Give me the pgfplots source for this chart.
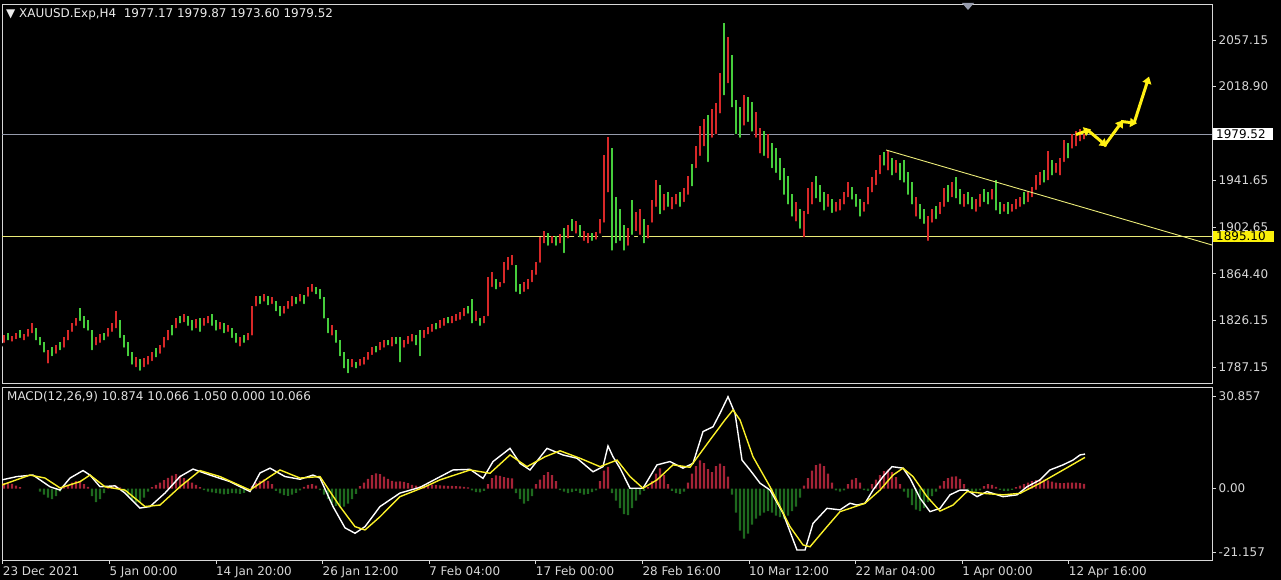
\documentclass[border=0pt]{standalone}
\usepackage{fontspec}
\setmainfont{DejaVu Sans}
\usepackage{pgfplots}
\usepackage{pgfplotstable}
\pgfplotsset{compat=1.18}
\usetikzlibrary{arrows.meta}
\definecolor{upred}{RGB}{215,40,40}
\definecolor{dngreen}{RGB}{70,205,60}
\definecolor{hred}{RGB}{165,35,55}
\definecolor{hgreen}{RGB}{30,105,30}
\definecolor{axgray}{RGB}{215,215,215}
\definecolor{lvgray}{RGB}{150,155,172}
\definecolor{lvyel}{RGB}{235,235,120}
\definecolor{arryel}{RGB}{255,240,20}
\definecolor{sigyel}{RGB}{250,240,40}
\definecolor{boxyel}{RGB}{250,240,10}

\pgfplotstableread{
x l h
4 1806 1814
12 1807 1813
16 1809 1816
24 1808 1815
28 1811 1819
32 1814 1824
48 1789 1802
56 1797 1806
64 1802 1812
68 1808 1818
72 1815 1824
76 1820 1828
96 1804 1812
100 1806 1815
108 1811 1820
112 1815 1824
116 1818 1834
136 1786 1796
144 1786 1795
148 1788 1797
152 1791 1800
160 1797 1806
164 1802 1812
168 1808 1818
176 1818 1828
184 1823 1831
196 1818 1827
204 1820 1828
208 1822 1830
220 1817 1825
228 1815 1822
240 1803 1812
248 1808 1816
252 1812 1838
256 1836 1846
264 1840 1848
272 1838 1845
284 1830 1838
288 1834 1842
292 1836 1846
300 1840 1848
308 1844 1854
312 1848 1856
332 1812 1822
352 1786 1794
360 1787 1794
364 1788 1796
368 1792 1800
372 1796 1804
380 1800 1808
384 1802 1810
392 1803 1812
404 1802 1810
408 1805 1813
412 1807 1815
424 1810 1818
428 1813 1821
432 1815 1823
440 1818 1826
444 1820 1828
452 1822 1830
456 1824 1831
460 1825 1833
464 1828 1836
476 1824 1834
484 1822 1830
488 1828 1862
492 1852 1866
500 1852 1858
504 1855 1874
508 1866 1878
512 1870 1880
524 1848 1858
528 1850 1860
532 1856 1868
536 1862 1874
540 1872 1895
544 1888 1900
552 1888 1896
560 1888 1897
568 1892 1905
576 1896 1908
584 1890 1900
588 1888 1898
596 1891 1899
600 1896 1910
604 1905 1962
608 1930 1977
628 1886 1902
636 1898 1915
640 1895 1918
648 1892 1905
652 1905 1925
656 1918 1942
664 1915 1930
672 1916 1928
676 1920 1930
684 1922 1935
688 1928 1945
696 1950 1970
700 1960 1986
704 1968 1992
712 1975 2000
716 1978 2005
720 1995 2030
728 2020 2060
744 1985 2012
756 1975 1998
760 1962 1985
768 1958 1980
796 1906 1924
804 1893 1916
808 1912 1935
812 1920 1940
828 1918 1930
836 1914 1924
840 1915 1926
844 1920 1932
848 1926 1940
864 1914 1924
868 1920 1936
872 1930 1944
876 1936 1950
880 1945 1962
888 1948 1966
896 1946 1958
916 1910 1928
928 1890 1912
932 1905 1918
940 1912 1924
944 1918 1935
952 1926 1940
964 1918 1930
976 1914 1926
980 1918 1930
992 1924 1934
1004 1914 1922
1012 1914 1922
1016 1916 1926
1020 1918 1928
1028 1922 1932
1032 1926 1936
1036 1932 1946
1040 1936 1948
1048 1940 1966
1056 1946 1956
1060 1944 1960
1064 1955 1975
1072 1966 1980
1076 1968 1982
1080 1972 1984
1084 1973.6 1979.87
}\upbars

\pgfplotstableread{
x l h
8 1808 1816
20 1810 1818
36 1808 1820
40 1804 1812
44 1798 1808
52 1795 1804
60 1800 1808
80 1824 1836
84 1818 1830
88 1816 1826
92 1800 1818
104 1808 1816
120 1810 1826
124 1802 1814
128 1795 1808
132 1788 1800
140 1783 1794
156 1794 1803
172 1812 1822
180 1822 1830
188 1820 1830
192 1816 1826
200 1815 1828
212 1820 1831
216 1816 1826
224 1814 1824
232 1810 1820
236 1806 1816
244 1806 1814
260 1838 1846
268 1837 1846
276 1832 1842
280 1828 1838
296 1838 1845
304 1838 1847
316 1846 1854
320 1842 1852
324 1826 1845
328 1814 1828
336 1806 1818
340 1795 1810
344 1785 1800
348 1781 1794
356 1785 1792
376 1798 1805
388 1804 1810
396 1805 1812
400 1790 1812
416 1804 1814
420 1795 1818
436 1817 1824
448 1822 1829
468 1830 1838
472 1822 1844
480 1820 1828
496 1850 1860
516 1848 1872
520 1846 1856
548 1886 1898
556 1886 1896
564 1880 1902
572 1898 1910
580 1893 1905
592 1890 1898
612 1882 1968
616 1888 1928
620 1890 1918
624 1882 1905
632 1895 1925
644 1888 1910
660 1912 1938
668 1918 1932
680 1918 1932
692 1935 1955
708 1955 1995
724 2010 2071
732 2000 2045
736 1978 2008
740 1975 2002
748 1988 2010
752 1980 2006
764 1960 1982
772 1950 1972
776 1946 1968
780 1940 1960
784 1928 1952
788 1920 1945
792 1910 1930
800 1900 1918
816 1925 1945
820 1922 1938
824 1915 1932
832 1913 1926
852 1924 1936
856 1918 1930
860 1910 1926
884 1952 1965
892 1944 1960
900 1940 1956
904 1938 1958
908 1928 1948
912 1920 1940
920 1908 1922
924 1904 1918
936 1908 1920
948 1922 1938
956 1925 1944
960 1920 1934
968 1920 1932
972 1916 1928
984 1922 1934
988 1920 1932
996 1915 1942
1000 1912 1924
1008 1912 1924
1024 1920 1932
1044 1938 1950
1052 1944 1958
1068 1958 1972
}\dnbars

\begin{document}
\begin{tikzpicture}[x=1bp,y=1bp]
\path[use as bounding box, fill=black] (0bp,0bp) rectangle (1281bp,580bp);

% ---------- price panel ----------
\begin{axis}[
  at={(2bp,197bp)}, anchor=south west,
  width=1210bp, height=379bp, scale only axis,
  xmin=2, xmax=1212, ymin=1774.5, ymax=2086.8,
  clip mode=individual,
  axis line style={draw=axgray, line width=0.8bp},
  xtick=\empty,
  ytick={1787.15,1826.15,1864.40,1902.65,1941.65,2018.90,2057.15},
  yticklabels={1787.15,1826.15,1864.40,1902.65,1941.65,2018.90,2057.15},
  ytick pos=right, yticklabel pos=right,
  tick align=outside, major tick length=4bp,
  tick style={draw=axgray, line width=0.8bp},
  yticklabel style={font=\fontsize{12}{14}\selectfont, text=axgray, inner sep=2.5bp},
]
\addplot[lvgray, line width=0.8bp] coordinates {(2,1979.52) (1212,1979.52)};
\addplot[lvyel, line width=0.8bp] coordinates {(2,1895.10) (1212,1895.10)};

\addplot[only marks, mark=none, error bars/.cd, y dir=plus, y explicit, error mark=none,
  error bar style={draw=upred, line width=2bp}]
  table[x=x, y=l, y error plus expr=\thisrow{h}-\thisrow{l}] {\upbars};
\addplot[only marks, mark=none, error bars/.cd, y dir=plus, y explicit, error mark=none,
  error bar style={draw=dngreen, line width=2bp}]
  table[x=x, y=l, y error plus expr=\thisrow{h}-\thisrow{l}] {\dnbars};

\addplot[lvyel, line width=0.9bp] coordinates {(886,1966.5) (1212,1888.2)};

\addplot[arryel, line width=3bp, -{Triangle[length=7bp,width=9bp]}] coordinates {(1076,1979.2) (1091,1983.5)};
\addplot[arryel, line width=3bp, -{Triangle[length=7bp,width=9bp]}] coordinates {(1089,1982) (1107,1969.5)};
\addplot[arryel, line width=3bp, -{Triangle[length=7bp,width=9bp]}] coordinates {(1104,1969.5) (1123,1991)};
\addplot[arryel, line width=3bp, -{Triangle[length=7bp,width=9bp]}] coordinates {(1121,1990) (1137,1988.5)};
\addplot[arryel, line width=3bp, -{Triangle[length=7bp,width=9bp]}] coordinates {(1134,1988.5) (1149,2027)};

\node[fill=white, text=black, anchor=west, inner xsep=3bp, inner ysep=1bp, text width=54bp,
  text height=8.8bp, text depth=0.6bp, font=\fontsize{12}{14}\selectfont]
  at (axis cs:1213,1979.52) {1979.52};
\node[fill=boxyel, text=black, anchor=west, inner xsep=3bp, inner ysep=1bp, text width=55bp,
  text height=8.8bp, text depth=0.6bp, font=\fontsize{12}{14}\selectfont]
  at (axis cs:1213,1895.10) {1895.10};
\end{axis}

% ---------- MACD panel ----------
\begin{axis}[
  at={(2bp,20bp)}, anchor=south west,
  width=1210bp, height=173bp, scale only axis,
  xmin=2, xmax=1212, ymin=-23.82, ymax=33.86,
  clip mode=individual,
  axis line style={draw=axgray, line width=0.8bp},
  xtick={2.7,109.3,215.9,322.5,429.1,535.7,642.3,748.9,855.5,962.1,1068.7},
  xticklabels={23 Dec 2021,5 Jan 00:00,14 Jan 20:00,26 Jan 12:00,7 Feb 04:00,17 Feb 00:00,28 Feb 16:00,10 Mar 12:00,22 Mar 04:00,1 Apr 00:00,12 Apr 16:00},
  xtick pos=bottom,
  xticklabel style={anchor=north west, font=\fontsize{12}{14}\selectfont, text=axgray, inner xsep=0bp, inner ysep=2.5bp},
  ytick={-21.157,0,30.857},
  yticklabels={-21.157,0.00,30.857},
  ytick pos=right, yticklabel pos=right,
  tick align=outside, major tick length=4bp,
  tick style={draw=axgray, line width=0.8bp},
  yticklabel style={font=\fontsize{12}{14}\selectfont, text=axgray, inner sep=2.5bp},
]
\addplot[ybar, bar width=2.2bp, fill=hred, draw=none] coordinates {
(4,1.8)(8,2.0)(12,1.6)(16,1.0)(20,0.5)
(64,0.5)(68,1.2)(72,2)(76,2.5)(80,2.3)(84,1.5)(88,0.6)
(108,0.6)(112,1)(116,1)(120,0.4)
(152,0.5)(156,1.2)(160,2)(164,2.8)(168,3.6)(172,4.3)(176,4.8)(180,4.3)(184,3.5)(188,2.8)(192,2)(196,1.2)(200,0.5)
(252,0.8)(256,1.8)(260,2.6)(264,3.1)(268,2.6)(272,1.5)
(304,0.6)(308,1.2)(312,1.5)(316,1.0)
(360,0.8)(364,2)(368,3.2)(372,4.5)(376,5.1)(380,4.8)(384,4)(388,3.2)(392,2.6)(396,2.3)(400,2.4)(404,2.2)(408,1.8)(412,1.2)
(416,1.0)(420,0.8)(424,1.0)(428,1.2)(432,1.3)(436,1.2)(440,1.1)(444,1.0)(448,0.9)(452,0.9)(456,0.8)(460,0.7)(464,0.6)(468,0.4)
(488,1.5)(492,3.5)(496,4.4)(500,4.2)(504,3.8)(508,3.6)(512,3.4)
(536,1.5)(540,3)(544,4.5)(548,5.5)(552,4.5)(556,2.5)
(600,2.5)(604,6)(608,7.2)
(648,0.5)(652,2.5)(656,5)(660,6.7)(664,4.5)(668,1.5)
(688,2)(692,5)(696,7.5)(700,9.4)(704,8.5)(708,6.5)(712,5.5)(716,7.5)(720,8.3)(724,7.5)(728,4)
(804,1)(808,3.5)(812,6)(816,7.8)(820,8.3)(824,7.5)(828,5)(832,2)
(848,1.5)(852,3.0)(856,3.5)(860,2)
(872,1.5)(876,3)(880,4.5)(884,5.8)(888,6.3)(892,5.5)(896,3.8)(900,1.5)
(940,1)(944,2.5)(948,3.5)(952,4)(956,4.1)(960,3.2)(964,1.5)
(984,0.8)(988,1.5)(992,1.2)(996,0.6)
(1016,0.5)(1020,1)(1024,1.5)(1028,2)(1032,2.5)(1036,2.8)(1040,3)(1044,3)(1048,2.7)(1052,2.3)(1056,2)(1060,1.8)(1064,1.8)(1068,2)(1072,2)(1076,2)(1080,1.8)(1084,1.6)
};
\addplot[ybar, bar width=2.2bp, fill=hgreen, draw=none] coordinates {
(40,-1)(44,-2)(48,-3)(52,-3.5)(56,-2.5)(60,-1)
(92,-2.5)(96,-4.5)(100,-3.5)(104,-1.5)
(124,-1)(128,-2.5)(132,-4)(136,-4.7)(140,-4.5)(144,-3)(148,-1)
(204,-0.5)(208,-1)(212,-1.3)(216,-1.5)(220,-1.7)(224,-1.9)(228,-1.8)(232,-1.5)(236,-1.6)(240,-1.8)(244,-1.4)(248,-0.8)
(276,-0.8)(280,-1.6)(284,-2.2)(288,-2.4)(292,-2)(296,-1.4)(300,-0.6)
(320,-0.5)(324,-2)(328,-3.5)(332,-4.8)(336,-5.8)(340,-6.3)(344,-6)(348,-5)(352,-3.5)(356,-1.8)
(472,-0.6)(476,-1.2)(480,-1.3)(484,-0.8)
(516,-1.5)(520,-3.5)(524,-5)(528,-4.2)(532,-2.5)
(560,-0.5)(564,-1)(568,-1.5)(572,-1.2)(576,-0.8)(580,-1.5)(584,-2)(588,-1.8)(592,-1.2)(596,-0.6)
(612,-1.5)(616,-4)(620,-6.5)(624,-8.5)(628,-8.9)(632,-6.5)(636,-4)(640,-2)(644,-0.8)
(672,-0.8)(676,-1.5)(680,-1.8)(684,-1)
(732,-2)(736,-8)(740,-14)(744,-16.7)(748,-15)(752,-12)(756,-10)(760,-9)(764,-8)(768,-7.5)(772,-8)(776,-9)(780,-9.5)(784,-10)(788,-9)(792,-7.5)(796,-6)(800,-3)
(836,-0.6)(840,-1)(844,-0.6)
(864,-0.5)(868,-0.8)
(904,-1)(908,-3)(912,-5.5)(916,-7)(920,-7.5)(924,-6.5)(928,-4.5)(932,-2.5)(936,-1)
(968,-0.5)(972,-1)(976,-1)(980,-0.6)
(1000,-0.4)(1004,-0.8)(1008,-0.8)(1012,-0.4)
};
\addplot[white, line width=1.4bp] coordinates {
(2,2.9)(17,4.0)(33,4.5)(50,0.6)(60,-0.5)(70,3.5)(83,6.0)(90,4.5)(100,0.6)(115,0.9)(125,-1.5)(140,-6.5)(150,-6)(165,-1.5)(180,4)(193,6.5)(210,4.5)(230,2.3)(250,-1)(260,5.2)(270,6.8)(285,4)(300,3.1)(313,4.5)(320,3.5)(333,-6)(345,-13.1)(355,-14.9)(365,-12.7)(380,-6)(400,-1.5)(420,0.4)(437,3.4)(453,6.2)(470,6.4)(483,3.4)(493,9.0)(510,13.4)(520,8.4)(530,6.2)(547,13.4)(563,11.2)(577,10.1)(593,5.6)(603,7.3)(608,14.2)(613,10.6)(620,6.8)(630,0.1)(643,0.1)(657,7.9)(670,9.0)(683,6.8)(693,8.4)(703,19.0)(713,20.6)(720,25.1)(728,30.6)(735,25.1)(742,9.5)(750,6.2)(760,1.8)(770,-0.5)(783,-8.2)(797,-20.5)(805,-20.5)(813,-11.6)(827,-6.6)(840,-7.1)(850,-4.9)(857,-5.5)(865,-4.9)(873,-0.5)(883,4.0)(892,7.3)(903,6.8)(910,3.4)(920,-3.2)(930,-7.7)(940,-6.6)(950,-2.1)(960,-0.5)(967,-0.5)(977,-2.7)(987,-1.0)(1003,-2.7)(1017,-2.1)(1027,0.6)(1040,2.9)(1050,6.2)(1063,7.9)(1073,9.5)(1080,11.2)(1085,11.5)
};
\addplot[sigyel, line width=1.4bp] coordinates {
(2,1.2)(30,4.5)(45,3.5)(60,0.2)(80,2.3)(90,4.5)(105,0.6)(125,-0.5)(145,-6)(160,-5.5)(180,0.6)(200,6.0)(220,4.0)(250,-0.5)(270,4)(280,6.2)(300,3.5)(320,4)(340,-6)(355,-12.7)(365,-13.8)(380,-9.4)(400,-2.7)(425,0.6)(440,2.9)(470,6.2)(490,5.1)(510,11.2)(527,7.3)(545,10.6)(560,12.6)(580,10.1)(600,7.3)(617,9.5)(630,4.0)(643,0.1)(657,2.9)(673,7.9)(690,7.1)(710,16.2)(725,22.9)(733,26.2)(740,22.9)(753,10.6)(770,0.6)(790,-12.7)(803,-18.8)(810,-19.4)(827,-12.7)(840,-7.7)(850,-6.6)(865,-4.9)(880,-0.5)(893,4.5)(903,6.8)(913,4.0)(927,-2.7)(940,-7.5)(953,-5.5)(967,-1.0)(983,-1.6)(1003,-2.1)(1020,-1.6)(1040,1.8)(1060,5.6)(1085,10.4)
};
\end{axis}

% ---------- panel texts ----------
\node[anchor=west, inner sep=0pt, text={rgb,255:red,235;green,235;blue,235}, font=\fontsize{12}{14}\selectfont]
  at (6bp,566bp) {▼ XAUUSD.Exp,H4\ \ 1977.17 1979.87 1973.60 1979.52};
\node[anchor=west, inner sep=0pt, text={rgb,255:red,225;green,225;blue,225}, font=\fontsize{12}{14}\selectfont]
  at (7bp,183bp) {MACD(12,26,9) 10.874 10.066 1.050 0.000 10.066};
\fill[lvgray] (962bp,577bp) -- (974bp,577bp) -- (968bp,570bp) -- cycle;
\end{tikzpicture}
\end{document}
